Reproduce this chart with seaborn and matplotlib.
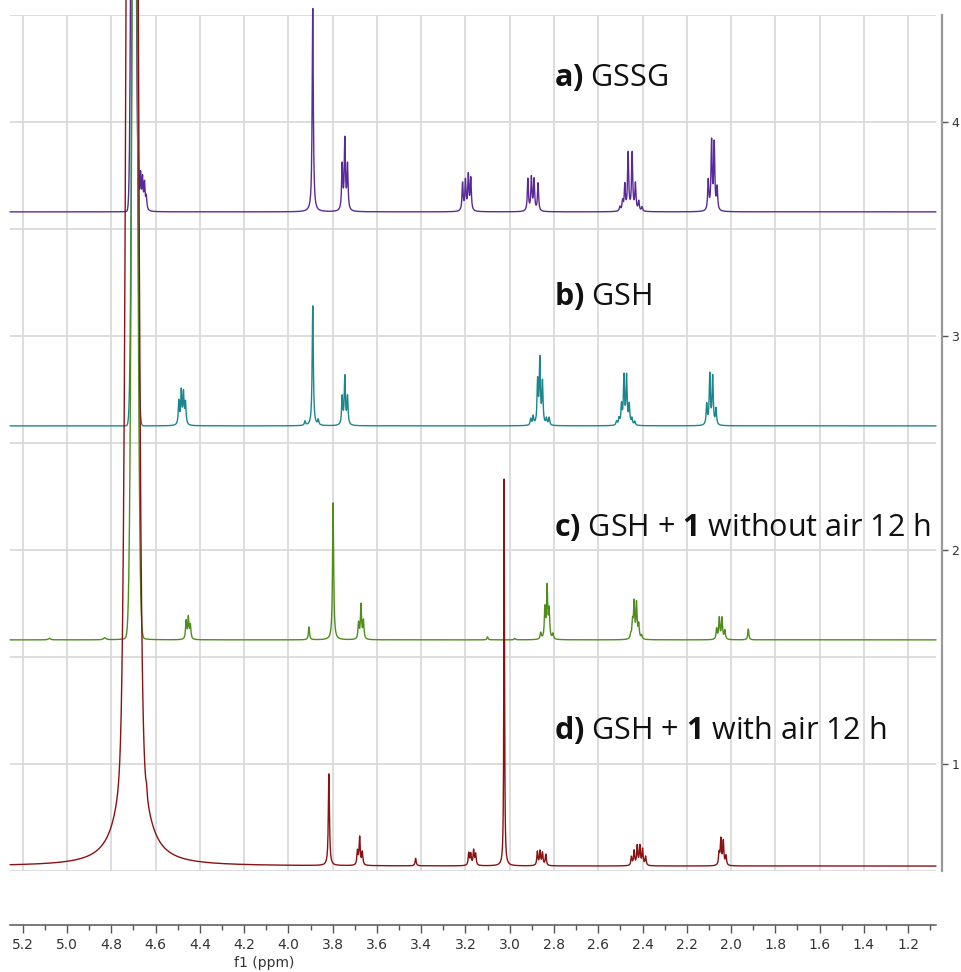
import numpy as np
import pandas as pd
import matplotlib
matplotlib.use("Agg")
import matplotlib.pyplot as plt
from matplotlib.ticker import MultipleLocator, FormatStrFormatter
import seaborn as sns

# peak tables
# shift in ppm, height in stack units (1 unit = distance between y ticks), half width in ppm
gssg_ppm = [4.678, 4.668, 4.659, 4.650, 4.642, 3.890, 3.757, 3.745, 3.733,
            3.213, 3.200, 3.187, 3.176, 2.918, 2.902, 2.890, 2.872,
            2.502, 2.490, 2.480, 2.465, 2.447, 2.432, 2.417, 2.402,
            2.103, 2.088, 2.076, 2.063]
gssg_height = [0.17, 0.16, 0.14, 0.12, 0.06, 0.95, 0.21, 0.33, 0.21,
               0.13, 0.14, 0.165, 0.15, 0.15, 0.155, 0.145, 0.13,
               0.02, 0.045, 0.12, 0.27, 0.27, 0.125, 0.045, 0.02,
               0.14, 0.32, 0.31, 0.105]
gssg_width = [0.003] * 29

gsh_ppm = [4.495, 4.484, 4.474, 4.465, 3.925, 3.890, 3.865, 3.757, 3.745, 3.733,
           2.905, 2.894, 2.874, 2.864, 2.852, 2.834, 2.822,
           2.517, 2.506, 2.495, 2.484, 2.472, 2.460, 2.448, 2.435,
           2.110, 2.096, 2.083, 2.068]
gsh_height = [0.11, 0.155, 0.145, 0.10, 0.02, 0.56, 0.025, 0.13, 0.225, 0.13,
              0.03, 0.04, 0.20, 0.30, 0.195, 0.03, 0.035,
              0.018, 0.03, 0.09, 0.225, 0.225, 0.09, 0.03, 0.018,
              0.095, 0.235, 0.225, 0.075]
gsh_width = [0.003] * 29

noair_ppm = [5.080, 4.830, 4.695, 4.462, 4.452, 4.443, 3.907, 3.798, 3.683, 3.672, 3.661,
             3.100, 2.977, 2.860, 2.841, 2.831, 2.822, 2.805,
             2.453, 2.445, 2.438, 2.427, 2.417, 2.404,
             2.065, 2.053, 2.041, 2.028, 1.922]
noair_height = [0.007, 0.01, 0.03, 0.085, 0.10, 0.065, 0.06, 0.64, 0.075, 0.16, 0.085,
                0.014, 0.007, 0.03, 0.14, 0.24, 0.13, 0.025,
                0.02, 0.075, 0.165, 0.165, 0.065, 0.018,
                0.05, 0.10, 0.10, 0.042, 0.05]
noair_width = [0.006, 0.006, 0.02] + [0.003] * 26

air_ppm = [4.706, 4.641, 3.817, 3.688, 3.678, 3.666, 3.425,
           3.185, 3.176, 3.163, 3.154, 3.025,
           2.875, 2.863, 2.852, 2.837,
           2.450, 2.438, 2.424, 2.412, 2.400, 2.386,
           2.054, 2.046, 2.035, 2.023]
air_height = [1.17, 0.04, 0.43, 0.065, 0.13, 0.06, 0.035,
              0.058, 0.052, 0.07, 0.052, 1.83,
              0.065, 0.066, 0.058, 0.052,
              0.04, 0.068, 0.09, 0.09, 0.075, 0.042,
              0.055, 0.12, 0.112, 0.044]
air_width = [0.041, 0.003, 0.003, 0.003, 0.003, 0.003, 0.003,
             0.003, 0.003, 0.003, 0.003, 0.0018] + [0.003] * 14

# solvent (HDO) line of each spectrum: centre, height, gaussian sigma
water_ppm = [4.700, 4.695, 4.695, 4.706]
water_height = [5.0, 5.0, 5.0, 10.7]
water_sigma = [0.0077, 0.009, 0.011, 0.018]

offsets = [3.58, 2.58, 1.58, 0.523]
names = ["a", "b", "c", "d"]
colors = ["#5b2a9a", "#1b878c", "#4f8e1c", "#8a1212"]
labels = [r"$\mathbf{a)}$ GSSG",
          r"$\mathbf{b)}$ GSH",
          r"$\mathbf{c)}$ GSH + $\mathbf{1}$ without air 12 h",
          r"$\mathbf{d)}$ GSH + $\mathbf{1}$ with air 12 h"]
label_y = [4.206, 3.187, 2.107, 1.159]

xmin, xmax = 1.074, 5.258

tables = [(gssg_ppm, gssg_height, gssg_width),
          (gsh_ppm, gsh_height, gsh_width),
          (noair_ppm, noair_height, noair_width),
          (air_ppm, air_height, air_width)]

shift = np.arange(xmin, xmax, 0.0004)
frames = []
for i, (p, h, w) in enumerate(tables):
    y = np.full_like(shift, offsets[i])
    for c, a, g in zip(p, h, w):
        y += a * g**2 / (g**2 + (shift - c)**2)
    y += water_height[i] * np.exp(-(shift - water_ppm[i])**2 / (2 * water_sigma[i]**2))
    frames.append(pd.DataFrame({"ppm": shift, "intensity": y, "spectrum": names[i]}))
df = pd.concat(frames)

sns.set_style("white")
plt.rcParams["mathtext.fontset"] = "custom"
plt.rcParams["mathtext.rm"] = "Open Sans"
plt.rcParams["mathtext.bf"] = "Open Sans:bold"

fig = plt.figure(figsize=(9.62, 9.72), dpi=100)
ax = fig.add_axes([10 / 962, 1 - 871 / 972, 926 / 962, 856 / 972])

sns.lineplot(data=df, x="ppm", y="intensity", hue="spectrum", hue_order=names,
             palette=colors, estimator=None, sort=False, lw=1.0, legend=False,
             ax=ax, clip_on=False, zorder=3)

for lab, ly in zip(labels, label_y):
    ax.text(2.801, ly, lab, fontsize=22, family="Open Sans", color="#111111",
            va="center", ha="left")

ax.set_xlim(xmax, xmin)
ax.set_ylim(0.5, 4.5)

ax.xaxis.set_major_locator(MultipleLocator(0.2))
ax.xaxis.set_minor_locator(MultipleLocator(0.1))
ax.xaxis.set_major_formatter(FormatStrFormatter("%.1f"))
ax.yaxis.set_major_locator(MultipleLocator(1))
ax.yaxis.set_minor_locator(MultipleLocator(0.5))
ax.yaxis.set_major_formatter(FormatStrFormatter("%d"))

ax.grid(True, axis="x", which="major", color="#dadada", lw=1.3)
ax.grid(True, axis="y", which="both", color="#dadada", lw=1.3)
ax.set_axisbelow(True)

for s in ["left", "top"]:
    ax.spines[s].set_visible(False)
ax.spines["bottom"].set_position(("outward", 39))
ax.spines["bottom"].set_color("#555555")
ax.spines["bottom"].set_linewidth(1.1)
ax.spines["right"].set_position(("outward", 4))
ax.spines["right"].set_color("#999999")
ax.spines["right"].set_linewidth(1.6)

ax.yaxis.tick_right()
ax.tick_params(axis="x", which="both", bottom=True, top=False)
ax.tick_params(axis="y", which="both", right=True, left=False)
ax.tick_params(axis="x", which="major", direction="out", length=6, width=1,
               color="#555555", labelsize=10, labelcolor="#333333", pad=3)
ax.tick_params(axis="x", which="minor", direction="out", length=3.5, width=1,
               color="#555555")
ax.tick_params(axis="y", which="major", direction="out", length=4, width=1,
               color="#555555", labelsize=9, labelcolor="#333333", pad=3)
ax.tick_params(axis="y", which="minor", length=0)

ax.set_xlabel("f1 (ppm)", fontsize=10, color="#333333")
ax.xaxis.set_label_coords(0.275, -0.099)
ax.set_ylabel("")

fig.savefig("out.png", dpi=100)
